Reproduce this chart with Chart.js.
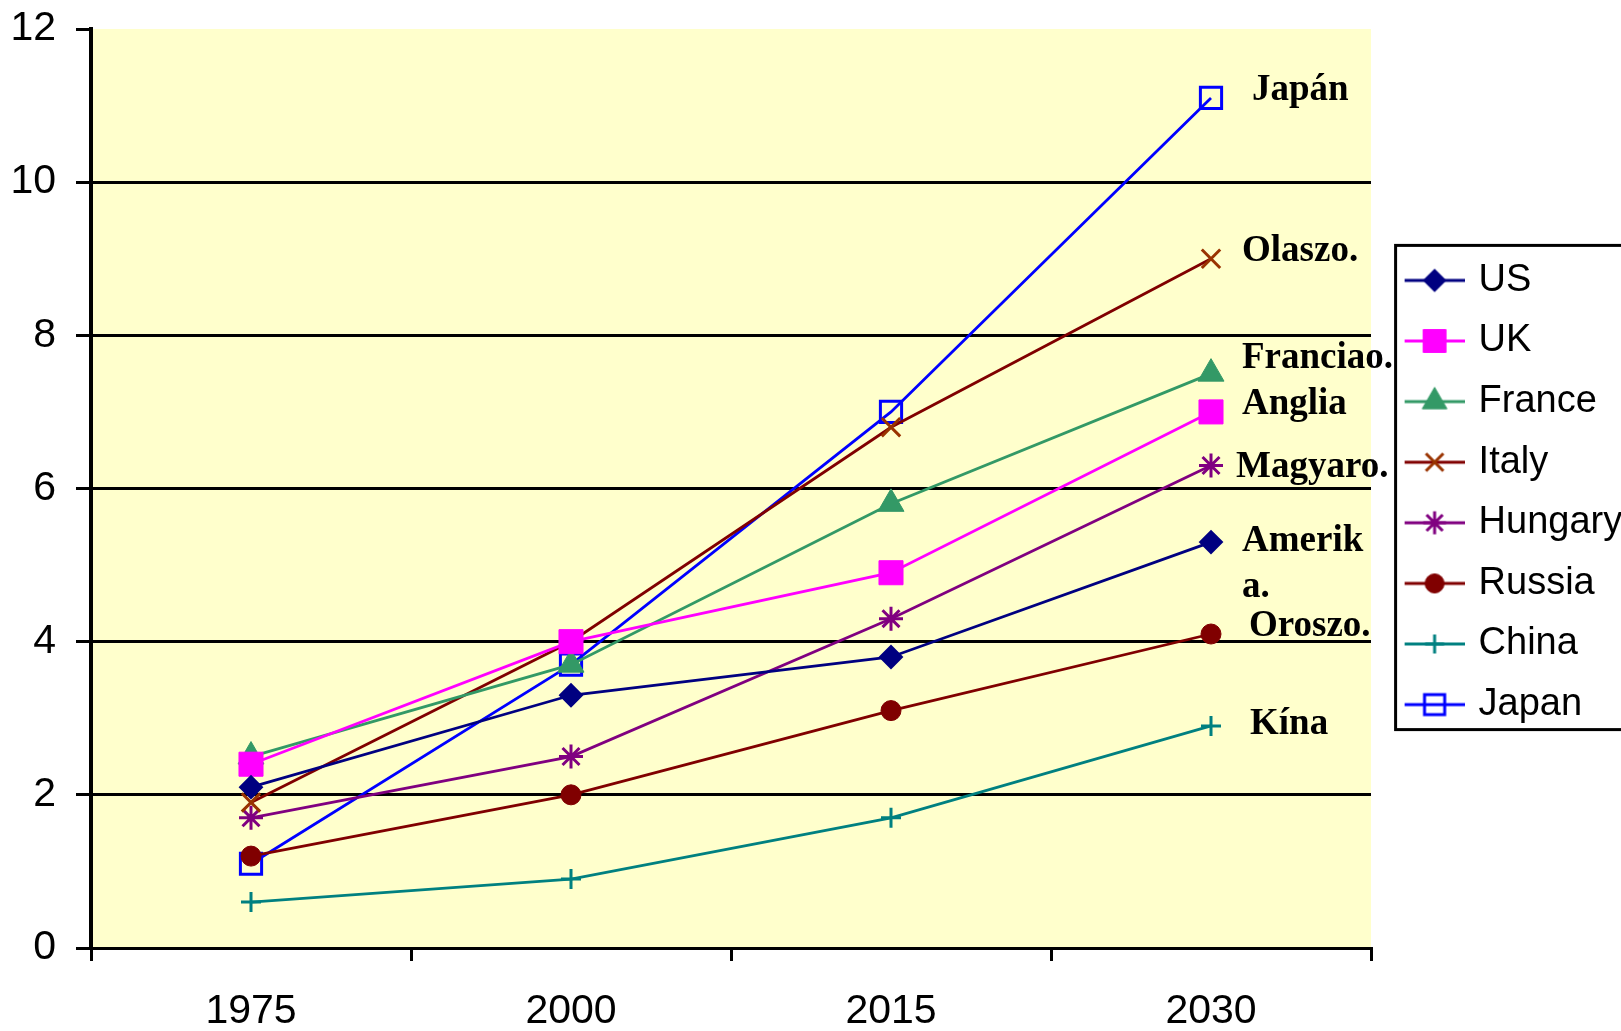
<!DOCTYPE html>
<html>
<head>
<meta charset="utf-8">
<title>Chart</title>
<script src="https://cdn.jsdelivr.net/npm/chart.js@4.4.1/dist/chart.umd.min.js"></script>
<style>
    html, body { margin: 0; padding: 0; background: #fff; overflow: hidden; }
    #wrap { width: 1621px; height: 1031px; overflow: hidden; }
    canvas { display: block; }
</style>
</head>
<body>
<div id="wrap"><canvas id="chart" width="1621" height="1031"></canvas></div>
<script>
'use strict';

// data
const years = ['1975', '2000', '2015', '2030'];
const usValues = [2.1, 3.3, 3.8, 5.3];
const ukValues = [2.4, 4.0, 4.9, 7.0];
const franceValues = [2.5, 3.7, 5.8, 7.5];
const italyValues = [1.9, 4.0, 6.8, 9.0];
const hungaryValues = [1.7, 2.5, 4.3, 6.3];
const russiaValues = [1.2, 2.0, 3.1, 4.1];
const chinaValues = [0.6, 0.9, 1.7, 2.9];
const japanValues = [1.1, 3.7, 7.0, 11.1];

// labels written next to the 2030 points (Hungarian names)
const endLabels = ['Japán', 'Olaszo.', 'Franciao.', 'Anglia', 'Magyaro.', 'Amerik', 'a.', 'Oroszo.', 'Kína'];
const endLabelValues = [11.2, 9.1, 7.7, 7.1, 6.27, 5.31, 4.71, 4.2, 2.92];
// horizontal nudge of each label from the 2030 point, px
const endLabelNudge = [41, 31, 31, 31, 25, 31, 31, 38, 39];

const datasets = [
    {label: 'US', data: usValues, borderColor: '#000080', pointStyle: 'rectRot', pointRadius: 11, pointBackgroundColor: '#000080', pointBorderColor: '#000080', pointBorderWidth: 2},
    {label: 'UK', data: ukValues, borderColor: '#FF00FF', pointStyle: 'rect', pointRadius: 17, pointBackgroundColor: '#FF00FF', pointBorderColor: '#FF00FF', pointBorderWidth: 1},
    {label: 'France', data: franceValues, borderColor: '#339966', pointStyle: 'triangle', pointRadius: 15, pointBackgroundColor: '#339966', pointBorderColor: '#339966', pointBorderWidth: 1},
    {label: 'Italy', data: italyValues, borderColor: '#800000', pointStyle: 'crossRot', pointRadius: 13, pointBackgroundColor: '#993300', pointBorderColor: '#993300', pointBorderWidth: 3},
    {label: 'Hungary', data: hungaryValues, borderColor: '#800080', pointStyle: 'star', pointRadius: 12, pointBackgroundColor: '#800080', pointBorderColor: '#800080', pointBorderWidth: 3},
    {label: 'Russia', data: russiaValues, borderColor: '#800000', pointStyle: 'circle', pointRadius: 10, pointBackgroundColor: '#800000', pointBorderColor: '#800000', pointBorderWidth: 1},
    {label: 'China', data: chinaValues, borderColor: '#008080', pointStyle: 'cross', pointRadius: 10, pointBackgroundColor: '#008080', pointBorderColor: '#008080', pointBorderWidth: 3},
    {label: 'Japan', data: japanValues, borderColor: '#0000FF', pointStyle: 'rect', pointRadius: 15, pointBackgroundColor: 'rgba(0,0,0,0)', pointBorderColor: '#0000FF', pointBorderWidth: 3}
];
datasets.forEach(ds => {
    ds.borderWidth = 2.8;
    ds.tension = 0;
    ds.fill = false;
});

// small picture of line + marker for the legend
function legendSample(ds) {
    const c = document.createElement('canvas');
    c.width = 76;
    c.height = 40;
    const g = c.getContext('2d');
    g.strokeStyle = ds.borderColor;
    g.lineWidth = 3;
    g.beginPath();
    g.moveTo(16, 20);
    g.lineTo(76, 20);
    g.stroke();
    g.fillStyle = ds.pointBackgroundColor;
    g.strokeStyle = ds.pointBorderColor;
    g.lineWidth = ds.pointBorderWidth;
    if (Chart.helpers && Chart.helpers.drawPoint) {
        Chart.helpers.drawPoint(g, {pointStyle: ds.pointStyle, radius: ds.pointRadius * 0.95, rotation: 0, borderWidth: ds.pointBorderWidth}, 46, 20);
    } else {
        g.beginPath();
        g.arc(46, 20, 8, 0, Math.PI * 2);
        g.fill();
    }
    return c;
}

const plotBackground = {
    id: 'plotBackground',
    beforeDraw(chart) {
        const {ctx, chartArea} = chart;
        ctx.save();
        ctx.fillStyle = '#FFFFCC';
        ctx.fillRect(chartArea.left, chartArea.top, chartArea.right - chartArea.left, chartArea.bottom - chartArea.top);
        ctx.restore();
    }
};

const endLabelPlugin = {
    id: 'endLabels',
    afterDatasetsDraw(chart) {
        const {ctx, scales: {x, y}} = chart;
        const baseX = x.getPixelForValue(years.length - 1);
        ctx.save();
        ctx.font = 'bold 37px "Liberation Serif", "Times New Roman", serif';
        ctx.fillStyle = '#000';
        ctx.textBaseline = 'middle';
        endLabels.forEach((text, i) => {
            ctx.fillText(text, baseX + endLabelNudge[i], y.getPixelForValue(endLabelValues[i]));
        });
        ctx.restore();
    }
};

// black frame round the legend (runs past the right edge like the original)
const legendFrame = {
    id: 'legendFrame',
    afterDraw(chart) {
        const boxes = chart.legend && chart.legend.legendHitBoxes;
        if (!boxes || !boxes.length) return;
        const first = boxes[0];
        const last = boxes[boxes.length - 1];
        const ctx = chart.ctx;
        ctx.save();
        ctx.strokeStyle = '#000';
        ctx.lineWidth = 3;
        const left = first.left + 2;
        const top = first.top - 16;
        ctx.strokeRect(left, top, 400, last.top + last.height + 6 - top);
        ctx.restore();
    }
};

const tickFont = {family: '"Liberation Sans", Arial, sans-serif', size: 41, lineHeight: 1};

new Chart(document.getElementById('chart'), {
    type: 'line',
    data: {labels: years, datasets: datasets},
    options: {
        responsive: false,
        animation: false,
        layout: {padding: {left: 0, top: 29, right: 0, bottom: 0}},
        plugins: {
            tooltip: {enabled: false},
            legend: {
                position: 'right',
                fullSize: false,
                maxWidth: 250,
                // empty title only nudges the legend rows down a little
                title: {display: true, text: '', padding: 0, font: {size: 8, lineHeight: 1}},
                labels: {
                    color: '#000',
                    font: {family: '"Liberation Sans", Arial, sans-serif', size: 38},
                    usePointStyle: true,
                    pointStyleWidth: 66,
                    boxHeight: 20,
                    padding: 22.6,
                    generateLabels(chart) {
                        return chart.data.datasets.map((ds, i) => ({
                            text: ds.label,
                            fillStyle: ds.borderColor,
                            strokeStyle: ds.borderColor,
                            lineWidth: 0,
                            pointStyle: legendSample(ds),
                            fontColor: '#000',
                            hidden: false,
                            datasetIndex: i
                        }));
                    }
                }
            }
        },
        scales: {
            x: {
                offset: true,
                afterFit(scale) { scale.height = 83; },
                grid: {display: true, drawOnChartArea: false, drawTicks: true, tickLength: 13, color: '#000', lineWidth: 3, offset: true},
                border: {display: true, color: '#000', width: 3},
                ticks: {color: '#000', padding: 30, font: tickFont}
            },
            y: {
                min: 0,
                max: 12,
                afterFit(scale) {
                    scale.width = 91;
                    scale.paddingTop = 0;
                    scale.paddingBottom = 0;
                },
                ticks: {stepSize: 2, color: '#000', padding: 20, font: tickFont},
                grid: {
                    color: ctx => (ctx.tick && ctx.tick.value === 12) ? 'rgba(0,0,0,0)' : '#000',
                    tickColor: '#000',
                    lineWidth: 3,
                    tickLength: 15
                },
                border: {display: true, color: '#000', width: 4}
            }
        }
    },
    plugins: [plotBackground, endLabelPlugin, legendFrame]
});
</script>
</body>
</html>
